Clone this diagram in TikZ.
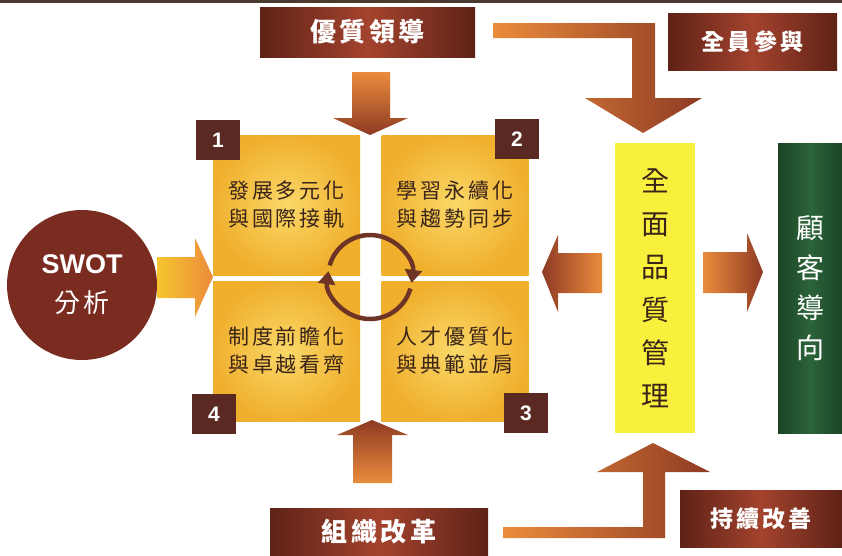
\documentclass[tikz,border=0pt]{standalone}
\usepackage{fontspec}
\usepackage{xcolor}
\usepackage{tikz}
\usetikzlibrary{shapes,arrows,positioning,calc,arrows.meta}

\newfontfamily\cjk[LetterSpace=14]{Noto Sans CJK TC}
\newfontfamily\cjkv{Noto Sans CJK TC}
\newfontfamily\latin{Liberation Sans}

\definecolor{brownD}{HTML}{5E2216}
\definecolor{brownL}{HTML}{A4432E}
\definecolor{badgeC}{HTML}{5A2A22}
\definecolor{arrowO}{HTML}{EA8C3C}
\definecolor{arrowB}{HTML}{8E3A24}
\definecolor{yelL}{HTML}{FAD868}
\definecolor{yelD}{HTML}{F0B02E}
\definecolor{tqmY}{HTML}{F8F03C}
\definecolor{greenD}{HTML}{1A4426}
\definecolor{greenL}{HTML}{2C643A}
\definecolor{swotC}{HTML}{7A2C20}
\definecolor{swotY}{HTML}{F7C52E}
\definecolor{cycC}{HTML}{6E3426}
\definecolor{txtD}{HTML}{3A2418}
\definecolor{lineC}{HTML}{4A3A30}

\begin{document}
\begin{tikzpicture}[x=1pt, y=-1pt,
    titlebox/.style={inner sep=0pt, text=white, left color=brownD, right color=brownD, middle color=brownL, font=\cjk\bfseries\fontsize{26}{26}\selectfont},
    quad/.style={inner sep=0pt, minimum width=147, minimum height=140, inner color=yelL, outer color=yelD, text=txtD, align=center, font=\cjk\fontsize{21}{28}\selectfont},
    badge/.style={inner sep=0pt, fill=badgeC, minimum width=44, minimum height=40, text=white, font=\latin\bfseries\fontsize{21}{21}\selectfont},
    cycarrow/.style={draw=cycC, line width=4.5pt, -{Triangle[length=13pt, width=17pt]}}]
    \useasboundingbox (0,0) rectangle (842,555);
    \fill[white] (0,0) rectangle (842,555);
    \fill[lineC] (0,0) rectangle (842,3);

    % Title boxes
    \node[titlebox, minimum width=215, minimum height=50] (lead) at (367.5,32) {優質領導};
    \node[titlebox, minimum width=169, minimum height=57, font=\cjk\bfseries\fontsize{23}{23}\selectfont] (all) at (752.5,41.5) {全員參與};
    \node[titlebox, minimum width=162, minimum height=57, font=\cjk\bfseries\fontsize{23}{23}\selectfont] (cont) at (761,518.5) {持續改善};
    \node[titlebox, minimum width=218, minimum height=47] (org) at (379,531.5) {組織改革};

    % Block arrows
    \shade[top color=arrowO, bottom color=arrowB] (352,72) -- (390,72) -- (390,118) -- (408,118) -- (370,135) -- (333,118) -- (352,118) -- cycle;
    \shade[top color=arrowB, bottom color=arrowO] (353,483) -- (392,483) -- (392,435) -- (408,435) -- (372,420) -- (337,435) -- (353,435) -- cycle;
    \shade[left color=arrowB, right color=arrowO] (602,253) -- (558,253) -- (558,235) -- (542,272) -- (558,312) -- (558,293) -- (602,293) -- cycle;
    \shade[left color=arrowO, right color=arrowB] (703,252) -- (747,252) -- (747,233) -- (763,272) -- (747,312) -- (747,293) -- (703,293) -- cycle;
    \shade[left color=swotY, right color=arrowO] (157,257) -- (195,257) -- (195,238) -- (213,277) -- (195,317) -- (195,298) -- (157,298) -- cycle;

    % Bent arrows
    \shade[left color=arrowO, right color=arrowB] (493,23) -- (655,23) -- (655,98) -- (702,98) -- (643,133) -- (585,98) -- (632,98) -- (632,38) -- (493,38) -- cycle;
    \shade[left color=arrowO, right color=arrowB] (503,538) -- (665,538) -- (665,472) -- (710,472) -- (653,443) -- (597,472) -- (643,472) -- (643,527) -- (503,527) -- cycle;

    % Four fields
    \node[quad] (q1) at (286.5,205) {發展多元化\\與國際接軌};
    \node[quad] (q2) at (455,205) {學習永續化\\與趨勢同步};
    \node[quad] (q3) at (455,351) {人才優質化\\與典範並肩};
    \node[quad] (q4) at (286.5,351) {制度前瞻化\\與卓越看齊};

    \node[badge] (b1) at (218,140) {1};
    \node[badge] (b2) at (517,139) {2};
    \node[badge] (b3) at (526,413) {3};
    \node[badge] (b4) at (214,414) {4};

    % Cycle
    \coordinate (cyc) at (370,277);
    \draw[cycarrow] ([shift={(196:42)}]cyc) arc[start angle=196, end angle=368, radius=42];
    \draw[cycarrow] ([shift={(16:42)}]cyc) arc[start angle=16, end angle=188, radius=42];

    % SWOT
    \node[circle, fill=swotC, minimum size=150, inner sep=0pt, text=white, align=center] (swot) at (82,285)
        {{\latin\bfseries\fontsize{27}{27}\selectfont SWOT}\\[16pt]{\cjk\fontsize{26}{26}\selectfont 分析}};

    % TQM and customer
    \node[fill=tqmY, minimum width=80, minimum height=290, inner sep=0pt, align=center, text=txtD, font=\cjkv\fontsize{28}{43}\selectfont] (tqm) at (655,288)
        {全\\面\\品\\質\\管\\理};
    \node[left color=greenD, right color=greenD, middle color=greenL, minimum width=64, minimum height=290, inner sep=0pt, align=center, text=white, font=\cjkv\fontsize{28}{40}\selectfont] (cust) at (810,288)
        {顧\\客\\導\\向};
\end{tikzpicture}
\end{document}
